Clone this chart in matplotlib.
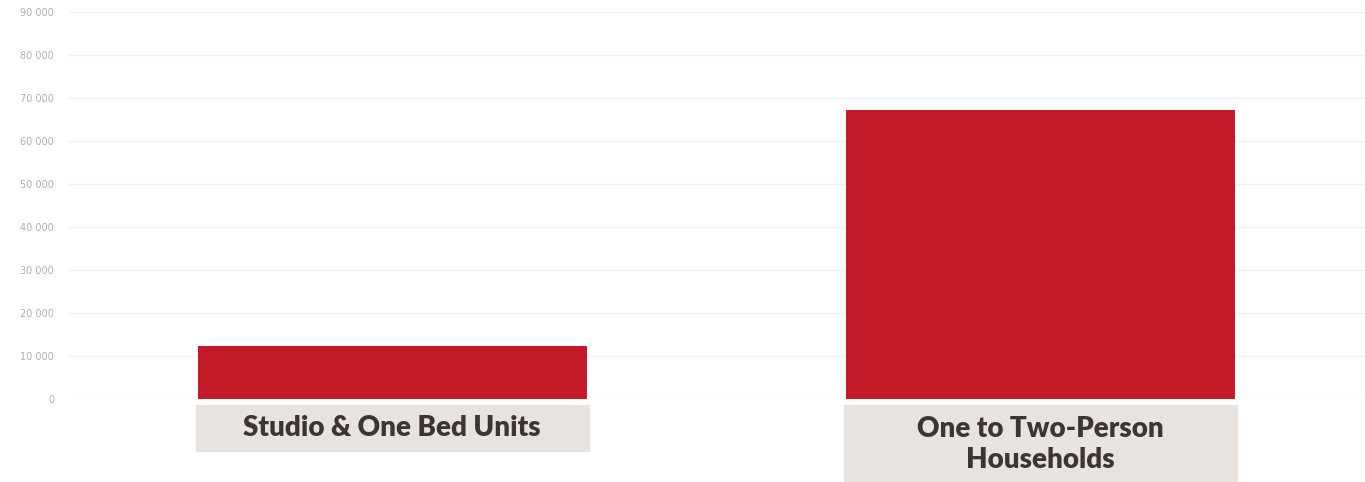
import matplotlib.pyplot as plt
import matplotlib.transforms as mtransforms
from matplotlib.patches import Rectangle
from matplotlib.ticker import FuncFormatter

categories = ["Studio & One Bed Units", "One to Two-Person\nHouseholds"]
values = [12300, 67200]
box_bottoms = [-0.134, -0.25]   # label box lower edge, axes fraction
y_ticks = [0, 10000, 20000, 30000, 40000, 50000, 60000, 70000, 80000, 90000]

bar_color = "#c41a27"
box_color = "#e9e3df"
text_color = "#3d3434"

fig = plt.figure(figsize=(13.65, 4.82), dpi=100)
ax = fig.add_axes([68 / 1365, 83 / 482, 1 - 68 / 1365, 387 / 482])

x = list(range(len(categories)))
ax.bar(x, values, width=0.6, color=bar_color, zorder=2)

ax.set_xlim(-0.5, 1.5)
ax.set_ylim(0, 90000)
ax.set_yticks(y_ticks)
ax.yaxis.set_major_formatter(FuncFormatter(lambda v, p: "0" if v == 0 else f"{int(v):,}".replace(",", " ")))
ax.tick_params(axis="y", length=0, labelsize=7, colors="#b0b0b0", pad=10)
ax.set_xticks([])
ax.grid(axis="y", color="#f2f2f2", linewidth=1, zorder=0)
for s in ax.spines.values():
    s.set_visible(False)

trans = mtransforms.blended_transform_factory(ax.transData, ax.transAxes)
for i, label in enumerate(categories):
    top = -0.0155
    ax.add_patch(Rectangle((i - 0.303, box_bottoms[i]), 0.606, top - box_bottoms[i],
                           transform=trans, color=box_color, clip_on=False, zorder=1))
    ty = -0.1176 if "\n" in label else -0.075
    ax.text(i, ty, label, transform=trans, ha="center", va="center",
            fontsize=20, fontweight="heavy", family="Lato", color=text_color,
            linespacing=1.2, clip_on=False)

fig.savefig("out.png", dpi=100)
